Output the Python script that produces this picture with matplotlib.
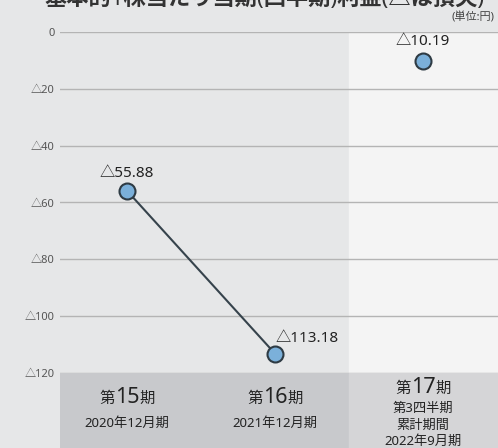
import matplotlib
matplotlib.use('Agg')
import matplotlib.pyplot as plt
from matplotlib.offsetbox import TextArea, HPacker, AnnotationBbox

plt.rcParams['font.family'] = ['Noto Sans', 'Noto Sans CJK JP', 'DejaVu Sans']

# data
periods = ['15', '16', '17']
sub_labels = ['2020年12月期', '2021年12月期', '第3四半期\n累計期間\n2022年9月期']
values = [-55.88, -113.18, -10.19]
value_labels = ['△55.88', '△113.18', '△10.19']
yticks = [0, -20, -40, -60, -80, -100, -120]
ytick_labels = ['0', '△20', '△40', '△60', '△80', '△100', '△120']

W, H = 498, 448
fig = plt.figure(figsize=(W / 100, H / 100), dpi=100)
fig.patch.set_facecolor('#e6e7e8')

x0, x1 = 0.047, 3.007

# main plot area
ax = fig.add_axes([60 / W, (H - 373) / H, 438 / W, (373 - 32) / H])
ax.set_facecolor('#e6e7e8')
ax.set_xlim(x0, x1)
ax.set_ylim(-120, 0)
ax.axvspan(2, x1, color='#f4f4f4', zorder=0)
for t in yticks:
    ax.axhline(t, color='#b4b4b4', lw=1, zorder=1)
for s in ax.spines.values():
    s.set_visible(False)
ax.set_xticks([])
ax.set_yticks(yticks)
ax.set_yticklabels(ytick_labels, fontsize=8, color='#555555')
ax.tick_params(axis='y', length=0, pad=4)

xs = [0.5, 1.5, 2.5]
ax.plot(xs[:2], values[:2], color='#36434c', lw=1.5, zorder=2)
ax.plot(xs, values, 'o', ms=11.5, mfc='#7bb0da', mec='#2e3b44', mew=1.5,
        ls='none', zorder=3, clip_on=False)

# label offsets in pixels
offsets = [(0, 17), (32, 15), (0, 19)]
for x, v, lab, off in zip(xs, values, value_labels, offsets):
    ax.annotate(lab, (x, v), xytext=off, textcoords='offset pixels',
                ha='center', va='center', fontsize=11, color='#222222')

# category band
bx = fig.add_axes([60 / W, 0, 438 / W, 75 / H])
bx.set_xlim(x0, x1)
bx.set_ylim(0, 75)
bx.axis('off')
bx.axvspan(x0, 2, color='#c8c9cc')
bx.axvspan(2, x1, color='#d5d5d7')

name_y = [51, 51, 61]
sub_y = [25, 25, 23]
for x, p, sub, ny, sy in zip(xs, periods, sub_labels, name_y, sub_y):
    box = HPacker(children=[
        TextArea('第', textprops=dict(fontsize=11, color='#222222')),
        TextArea(p, textprops=dict(fontsize=15.5, color='#222222')),
        TextArea('期', textprops=dict(fontsize=11, color='#222222')),
    ], align='baseline', pad=0, sep=0)
    ab = AnnotationBbox(box, (x, ny), xycoords='data', frameon=False,
                        box_alignment=(0.5, 0.5))
    bx.add_artist(ab)
    bx.text(x, sy, sub, ha='center', va='center', fontsize=9.5,
            color='#222222', linespacing=1.35)

# title (partly cut off at the top) and unit
fig.text(0.5 + 15 / W, 1.0 + 1 / H, '基本的1株当たり当期(四半期)利益(△は損失)',
         ha='center', va='center', fontsize=16, fontweight='bold', color='#333333')
fig.text(494 / W, 1 - 18 / H, '(単位:円)', ha='right', va='center',
         fontsize=8, color='#444444')

fig.savefig('out.png', dpi=100, facecolor=fig.get_facecolor())
